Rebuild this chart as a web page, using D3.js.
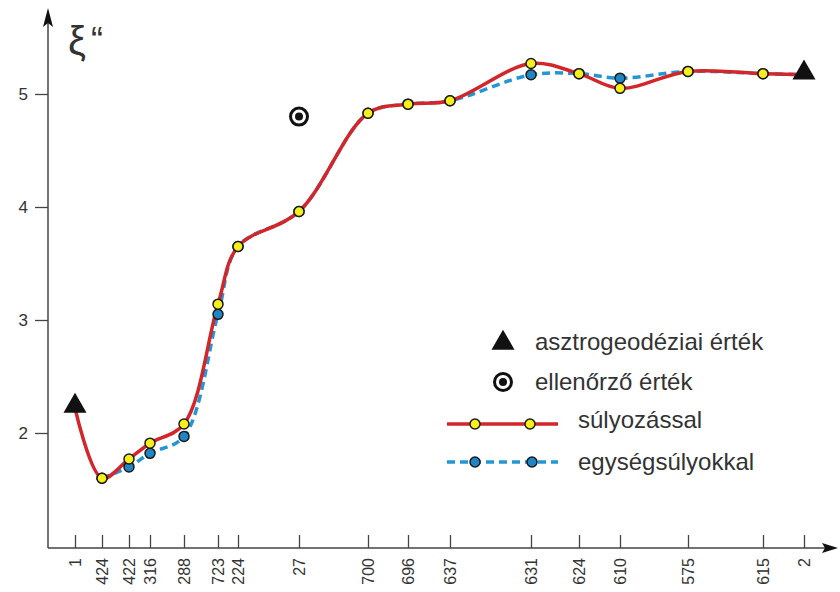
<!DOCTYPE html>
<html>
<head>
<meta charset="utf-8">
<script src="https://cdn.jsdelivr.net/npm/d3@7"></script>
<style>
  body { margin: 0; background: #fff; }
  svg text { font-family: "Liberation Sans", Arial, sans-serif; fill: #333; }
</style>
</head>
<body>
<div id="chart"></div>
<script>
// stations along the profile and their distance from station 1
var stations = ["1", "424", "422", "316", "288", "723", "224", "27", "700", "696", "637", "631", "624", "610", "575", "615", "2"];
var distance = [0, 27, 54, 75, 109, 143, 163, 224, 293, 333, 375, 456, 504, 545, 613, 688, 729];

// xi values (arc seconds)
var weighted = [2.22, 1.60, 1.77, 1.91, 2.08, 3.14, 3.65, 3.96, 4.83, 4.91, 4.94, 5.27, 5.18, 5.05, 5.20, 5.18, 5.17];
var unitWeight = [null, 1.60, 1.70, 1.82, 1.97, 3.05, 3.65, 3.96, 4.83, 4.91, 4.94, 5.17, 5.18, 5.14, 5.20, 5.18, 5.17];

// astrogeodetic stations and the check point
var astroStations = ["1", "2"];
var astroValues = [2.22, 5.17];
var checkStation = "27";
var checkValue = 4.80;

var yTicks = [2, 3, 4, 5];

var legendLabels = ["asztrogeodéziai érték", "ellenőrző érték", "súlyozással", "egységsúlyokkal"];

var svgWidth = 840;
var svgHeight = 592;

var red = "#d3262b";
var blue = "#2596d4";
var blueFill = "#1f86c6";
var yellow = "#f6ef1c";

var svg = d3.select("#chart")
    .append("svg")
    .attr("width", svgWidth)
    .attr("height", svgHeight);

var origin = { x: 48, y: 548 };

var xScale = d3.scaleLinear()
    .domain([0, 729])
    .range([75, 804]);
var yScale = d3.scaleLinear()
    .domain([2, 5])
    .range([433, 94]);

var distOf = {};
stations.forEach(function (s, i) { distOf[s] = distance[i]; });

// axes lines with arrow heads
svg.append("line")
    .attr("x1", origin.x).attr("y1", origin.y)
    .attr("x2", 826).attr("y2", origin.y)
    .attr("stroke", "#444").attr("stroke-width", 1.5);
svg.append("path")
    .attr("d", "M838," + origin.y + " L822," + (origin.y - 5) + " L825," + origin.y + " L822," + (origin.y + 5) + " Z")
    .attr("fill", "#111");
svg.append("line")
    .attr("x1", origin.x).attr("y1", origin.y)
    .attr("x2", origin.x).attr("y2", 22)
    .attr("stroke", "#444").attr("stroke-width", 1.5);
svg.append("path")
    .attr("d", "M" + origin.x + ",8 L" + (origin.x - 5) + ",27 L" + origin.x + ",23 L" + (origin.x + 5) + ",27 Z")
    .attr("fill", "#111");

// x axis: ticks pointing up, labels rotated
var bottomAxis = d3.axisBottom(xScale)
    .tickValues(distance)
    .tickFormat(function (d, i) { return stations[i]; })
    .tickSize(-13);
var xAxisG = svg.append("g")
    .attr("transform", "translate(0," + origin.y + ")")
    .call(bottomAxis);
xAxisG.attr("font-size", null).attr("font-family", null);
xAxisG.select(".domain").remove();
xAxisG.selectAll(".tick line").attr("stroke", "#444").attr("stroke-width", 1.3);
xAxisG.selectAll(".tick text")
    .attr("transform", "rotate(-90)")
    .attr("x", -10)
    .attr("y", 0)
    .attr("dy", "0.35em")
    .style("text-anchor", "end")
    .style("font-size", "16px")
    .attr("fill", "#333");

// y axis
var leftAxis = d3.axisLeft(yScale)
    .tickValues(yTicks)
    .tickFormat(d3.format("d"))
    .tickSize(13)
    .tickPadding(7);
var yAxisG = svg.append("g")
    .attr("transform", "translate(" + origin.x + ",0)")
    .call(leftAxis);
yAxisG.attr("font-size", null).attr("font-family", null);
yAxisG.select(".domain").remove();
yAxisG.selectAll(".tick line").attr("stroke", "#444").attr("stroke-width", 1.3);
yAxisG.selectAll(".tick text")
    .style("font-size", "17px")
    .attr("fill", "#333");

// axis title xi"
svg.append("text")
    .attr("x", 68)
    .attr("y", 55)
    .style("font-size", "40px")
    .text("ξ");
svg.append("text")
    .attr("x", 91)
    .attr("y", 53)
    .style("font-size", "36px")
    .text("“");

// curves
var redData = stations.map(function (s, i) { return { x: distance[i], v: weighted[i], s: s }; });
var blueData = stations.map(function (s, i) { return { x: distance[i], v: unitWeight[i], s: s }; })
    .filter(function (d) { return d.v != null; });

var line = d3.line()
    .x(function (d) { return xScale(d.x); })
    .y(function (d) { return yScale(d.v); })
    .curve(d3.curveCatmullRom.alpha(0.5));

svg.append("path")
    .datum(blueData)
    .attr("d", line)
    .attr("fill", "none")
    .attr("stroke", blue)
    .attr("stroke-width", 3.5)
    .attr("stroke-dasharray", "8,5");

svg.append("path")
    .datum(redData)
    .attr("d", line)
    .attr("fill", "none")
    .attr("stroke", red)
    .attr("stroke-width", 3.5);

// markers (not on the astrogeodetic end points)
var isAstro = function (d) { return astroStations.indexOf(d.s) >= 0; };

svg.selectAll(".blueDot")
    .data(blueData.filter(function (d) { return !isAstro(d); }))
    .enter()
    .append("circle")
    .attr("class", "blueDot")
    .attr("cx", function (d) { return xScale(d.x); })
    .attr("cy", function (d) { return yScale(d.v); })
    .attr("r", 5)
    .attr("fill", blueFill)
    .attr("stroke", "#1a1a1a")
    .attr("stroke-width", 1.5);

svg.selectAll(".yellowDot")
    .data(redData.filter(function (d) { return !isAstro(d); }))
    .enter()
    .append("circle")
    .attr("class", "yellowDot")
    .attr("cx", function (d) { return xScale(d.x); })
    .attr("cy", function (d) { return yScale(d.v); })
    .attr("r", 5)
    .attr("fill", yellow)
    .attr("stroke", "#1a1a1a")
    .attr("stroke-width", 1.5);

// astrogeodetic triangles
var triangle = d3.symbol().type(d3.symbolTriangle).size(230);
svg.selectAll(".astro")
    .data(astroStations)
    .enter()
    .append("path")
    .attr("class", "astro")
    .attr("d", triangle)
    .attr("transform", function (s, i) {
        return "translate(" + xScale(distOf[s]) + "," + (yScale(astroValues[i]) - 2) + ")";
    })
    .attr("fill", "#111");

// check point
var cx = xScale(distOf[checkStation]);
var cy = yScale(checkValue);
svg.append("circle")
    .attr("cx", cx).attr("cy", cy).attr("r", 8.5)
    .attr("fill", "#fff").attr("stroke", "#111").attr("stroke-width", 3);
svg.append("circle")
    .attr("cx", cx).attr("cy", cy).attr("r", 4)
    .attr("fill", "#111");

// legend
var legend = svg.append("g");
legend.append("path")
    .attr("d", triangle)
    .attr("transform", "translate(503,343)")
    .attr("fill", "#111");
legend.append("circle")
    .attr("cx", 503).attr("cy", 382).attr("r", 8.5)
    .attr("fill", "#fff").attr("stroke", "#111").attr("stroke-width", 3);
legend.append("circle")
    .attr("cx", 503).attr("cy", 382).attr("r", 4)
    .attr("fill", "#111");

legend.append("line")
    .attr("x1", 447).attr("x2", 558).attr("y1", 424).attr("y2", 424)
    .attr("stroke", red).attr("stroke-width", 3.5);
[475, 530].forEach(function (x) {
    legend.append("circle")
        .attr("cx", x).attr("cy", 424).attr("r", 5)
        .attr("fill", yellow).attr("stroke", "#1a1a1a").attr("stroke-width", 1.5);
});
legend.append("line")
    .attr("x1", 447).attr("x2", 558).attr("y1", 462).attr("y2", 462)
    .attr("stroke", blue).attr("stroke-width", 3.5)
    .attr("stroke-dasharray", "8,5");
[475, 532].forEach(function (x) {
    legend.append("circle")
        .attr("cx", x).attr("cy", 462).attr("r", 5)
        .attr("fill", blueFill).attr("stroke", "#1a1a1a").attr("stroke-width", 1.5);
});

var legendPos = [[535, 350], [535, 390], [578, 428], [578, 470]];
legend.selectAll("text")
    .data(legendLabels)
    .enter()
    .append("text")
    .attr("x", function (d, i) { return legendPos[i][0]; })
    .attr("y", function (d, i) { return legendPos[i][1]; })
    .style("font-size", "24px")
    .text(function (d) { return d; });
</script>
</body>
</html>
